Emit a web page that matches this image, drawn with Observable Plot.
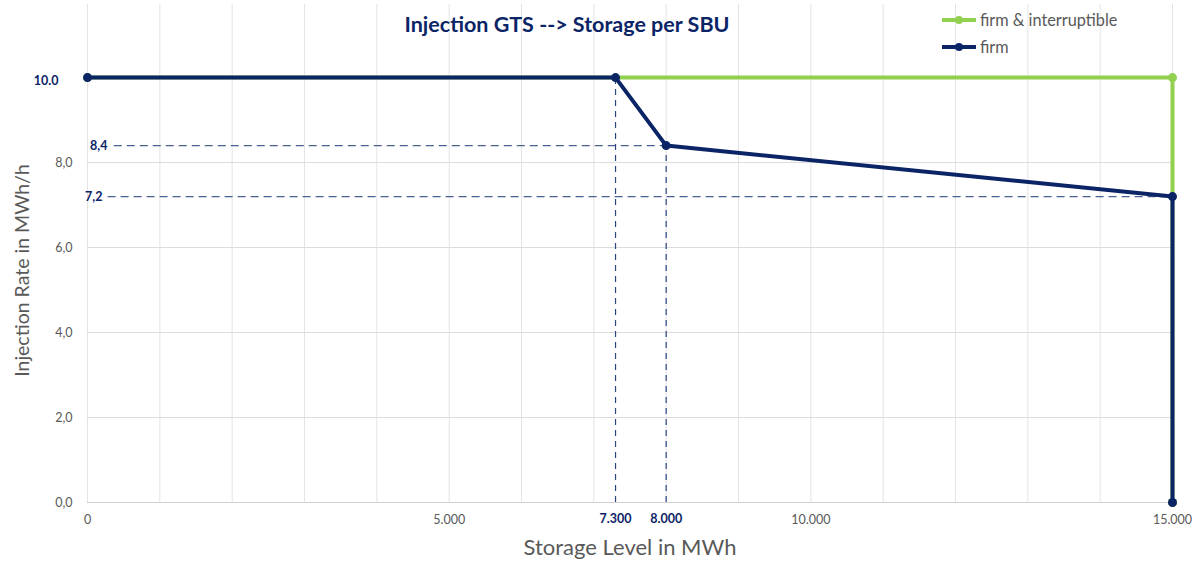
<!DOCTYPE html>
<html>
<head>
<meta charset="utf-8">
<script src="https://cdn.jsdelivr.net/npm/d3@7"></script>
<script src="https://cdn.jsdelivr.net/npm/@observablehq/plot@0.6"></script>
<style>
  html, body { margin: 0; padding: 0; background: #fff; }
  #wrap { position: relative; width: 1199px; height: 566px; font-family: Lato, "Open Sans", sans-serif; }
  #legend { position: absolute; left: 942px; top: 6px; font-size: 16.3px; color: #595959; line-height: 27px; }
  #legend .item { display: flex; align-items: center; }
  #legend svg { margin-right: 4px; }
</style>
</head>
<body>
<div id="wrap"></div>
<script>
// Series: firm & interruptible
const fiLevel = [0, 15000, 15000];
const fiRate = [10, 10, 0];
// Series: firm
const firmLevel = [0, 7300, 8000, 15000, 15000];
const firmRate = [10, 10, 8.4, 7.2, 0];
// Reference lines (drop lines from breakpoints)
const vRefLevel = [7300, 8000];
const vRefRate = [10, 8.4];
const hRefRate = [8.4, 7.2];
const hRefFrom = [370, 285];
const hRefTo = [8000, 15000];
const hRefLabels = ["8,4", "7,2"];
// Tick labels
const xTicks = [0, 5000, 10000, 15000];
const xTickLabels = ["0", "5.000", "10.000", "15.000"];
const xHighlight = [7300, 8000];
const xHighlightLabels = ["7.300", "8.000"];
const yTicks = [0, 2, 4, 6, 8];
const yTickLabels = ["0,0", "2,0", "4,0", "6,0", "8,0"];
const yHighlight = [10];
const yHighlightLabels = ["10.0"];
const xGrid = d3.range(0, 15001, 1000);

const NAVY = "#0b2466";
const GREEN = "#92d050";
const DASH = "#2a4580";
const GREY = "#595959";

const fiData = fiLevel.map((x, i) => ({x, y: fiRate[i]}));
const firmData = firmLevel.map((x, i) => ({x, y: firmRate[i]}));
const vRef = vRefLevel.map((x, i) => ({x, y: vRefRate[i]}));
const hRef = hRefRate.map((y, i) => ({y, x1: hRefFrom[i], x2: hRefTo[i], label: hRefLabels[i]}));

const chart = Plot.plot({
  width: 1199,
  height: 566,
  marginLeft: 87,
  marginRight: 27,
  marginTop: 4,
  marginBottom: 64,
  style: {fontFamily: "Lato, 'Open Sans', sans-serif", background: "#fff"},
  x: {domain: [0, 15000]},
  y: {domain: [0, 11.72]},
  marks: [
    Plot.ruleX(xGrid, {stroke: "#e4e4e4", strokeWidth: 1}),
    Plot.ruleY(yTicks, {stroke: "#dcdcdc", strokeWidth: 1}),
    Plot.ruleY([0], {stroke: "#d0d0d0", strokeWidth: 1.2}),
    Plot.axisX(xTicks, {tickSize: 0, tickPadding: 13, tickFormat: (d, i) => xTickLabels[i], fill: GREY, fontSize: 12.5, label: null}),
    Plot.axisY(yTicks, {tickSize: 0, tickPadding: 15, tickFormat: (d, i) => yTickLabels[i], fill: GREY, fontSize: 12.5, label: null}),
    Plot.text(xHighlight, {x: d => d, y: 0, text: (d, i) => xHighlightLabels[i], dy: 16, fill: NAVY, fontWeight: "bold", fontSize: 12.5}),
    Plot.text(yHighlight, {x: 0, y: d => d, text: (d, i) => yHighlightLabels[i], dx: -29, dy: 3, textAnchor: "end", fill: NAVY, fontWeight: "bold", fontSize: 12.5}),
    Plot.ruleX(vRef, {x: "x", y1: 0, y2: "y", stroke: DASH, strokeWidth: 1.2, strokeDasharray: "6,5"}),
    Plot.ruleY(hRef, {y: "y", x1: "x1", x2: "x2", stroke: DASH, strokeOpacity: 0.85, strokeWidth: 1.2, strokeDasharray: "8,5"}),
    Plot.text(hRef.slice(0, 1), {x: 0, y: "y", text: "label", dx: 20, textAnchor: "end", fill: NAVY, fontWeight: "bold", fontSize: 12.5}),
    Plot.text(hRef.slice(1), {x: 0, y: "y", text: "label", dx: 15, textAnchor: "end", fill: NAVY, fontWeight: "bold", fontSize: 12.5}),
    Plot.line(fiData, {x: "x", y: "y", stroke: GREEN, strokeWidth: 4}),
    Plot.dot(fiData, {x: "x", y: "y", fill: GREEN, r: 4.5}),
    Plot.line(firmData, {x: "x", y: "y", stroke: NAVY, strokeWidth: 4}),
    Plot.dot(firmData, {x: "x", y: "y", fill: NAVY, r: 4.5}),
    Plot.text(["Injection GTS --> Storage per SBU"], {frameAnchor: "top", text: d => d, dx: -63, dy: 12, fill: NAVY, fontWeight: "bold", fontSize: 21.5}),
    Plot.text(["Injection Rate in MWh/h"], {frameAnchor: "left", textAnchor: "middle", text: d => d, rotate: -90, dx: -65, dy: 17, fill: GREY, fontSize: 19.5}),
    Plot.text(["Storage Level in MWh"], {frameAnchor: "bottom", text: d => d, dx: 0, dy: 52, fill: GREY, fontSize: 22})
  ]
});

const wrap = document.getElementById("wrap");
wrap.appendChild(chart);

const legendItems = [["firm & interruptible", GREEN], ["firm", NAVY]];
const legend = document.createElement("div");
legend.id = "legend";
for (const [name, color] of legendItems) {
  const item = document.createElement("div");
  item.className = "item";
  item.innerHTML = `<svg width="34" height="10"><line x1="0" y1="5" x2="34" y2="5" stroke="${color}" stroke-width="4"/><circle cx="17" cy="5" r="4" fill="${color}"/></svg><span>${name}</span>`;
  legend.appendChild(item);
}
wrap.appendChild(legend);
</script>
</body>
</html>
